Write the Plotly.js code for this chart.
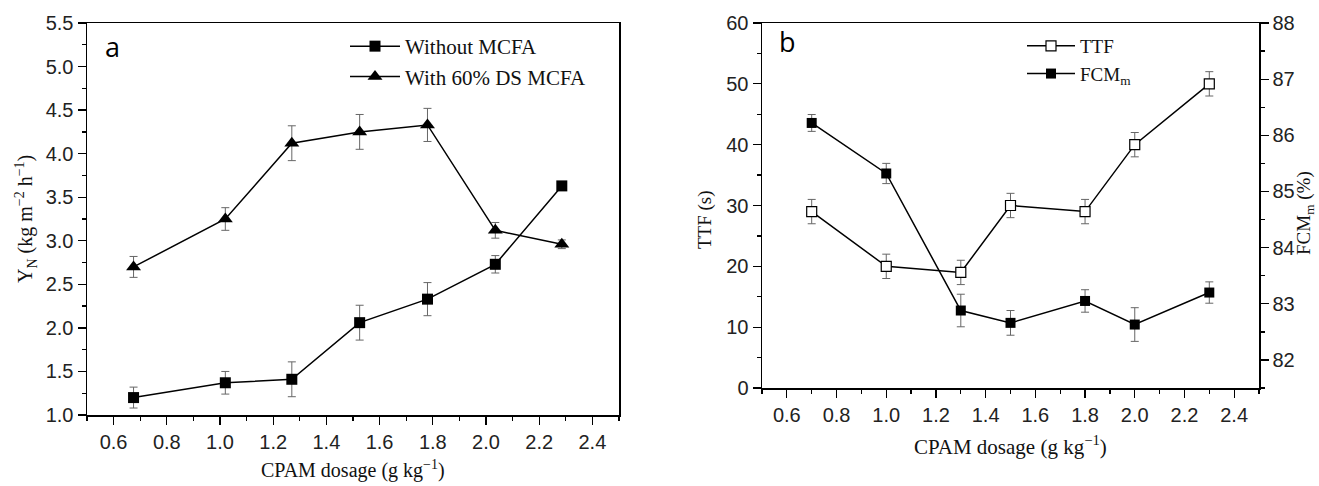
<!DOCTYPE html>
<html>
<head>
<meta charset="utf-8">
<script src="https://cdn.plot.ly/plotly-3.0.1.min.js"></script>
<style>html,body{margin:0;padding:0;background:#fff;}#chart{width:1319px;height:486px;}</style>
</head>
<body>
<div id="chart"></div>
<script>
// ---- Panel a data ----
const dosageA = [0.675, 1.02, 1.27, 1.525, 1.78, 2.035, 2.285];
const withoutMCFA = [1.20, 1.37, 1.41, 2.06, 2.33, 2.73, 3.63];
const withoutMCFAErr = [0.12, 0.13, 0.20, 0.20, 0.19, 0.10, 0.04];
const withMCFA = [2.70, 3.25, 4.12, 4.25, 4.33, 3.12, 2.96];
const withMCFAErr = [0.12, 0.13, 0.20, 0.20, 0.19, 0.09, 0.05];

// ---- Panel b data ----
const dosageB = [0.7, 1.0, 1.3, 1.5, 1.8, 2.0, 2.3];
const ttf = [29, 20, 19, 30, 29, 40, 50];
const ttfErr = [2, 2, 2, 2, 2, 2, 2];
const fcm = [86.22, 85.32, 82.88, 82.66, 83.05, 82.63, 83.20];
const fcmErr = [0.15, 0.18, 0.29, 0.22, 0.20, 0.30, 0.19];

const W = 1319, H = 486;
const tickFont = {family: 'Liberation Sans, Arial, sans-serif', size: 20, color: '#222'};
const serif = 'Liberation Serif, Times New Roman, serif';
const errStyle = (arr) => ({type: 'data', array: arr, visible: true, color: '#666', thickness: 1, width: 4});

const traces = [
  {x: dosageA, y: withoutMCFA, error_y: errStyle(withoutMCFAErr), name: 'Without MCFA',
   mode: 'lines+markers', xaxis: 'x', yaxis: 'y', legend: 'legend',
   line: {color: '#000', width: 1.5}, marker: {symbol: 'square', size: 11, color: '#000'}},
  {x: dosageA, y: withMCFA, error_y: errStyle(withMCFAErr), name: 'With 60% DS MCFA',
   mode: 'lines+markers', xaxis: 'x', yaxis: 'y', legend: 'legend',
   line: {color: '#000', width: 1.5}, marker: {symbol: 'triangle-up', size: 13, color: '#000'}},
  {x: dosageB, y: ttf, error_y: errStyle(ttfErr), name: 'TTF',
   mode: 'lines+markers', xaxis: 'x2', yaxis: 'y2', legend: 'legend2',
   line: {color: '#000', width: 1.5}, marker: {symbol: 'square', size: 10, color: '#fff', line: {color: '#000', width: 1.2}}},
  {x: dosageB, y: fcm, error_y: errStyle(fcmErr), name: 'FCM<sub>m</sub>',
   mode: 'lines+markers', xaxis: 'x2', yaxis: 'y3', legend: 'legend2',
   line: {color: '#000', width: 1.5}, marker: {symbol: 'square', size: 10, color: '#000'}}
];

const xCommon = {
  range: [0.5, 2.5], dtick: 0.2, tick0: 0.6, tickformat: '.1f', ticks: 'outside', ticklen: 8, tickwidth: 1.3,
  tickcolor: '#000', showline: true, linecolor: '#000', linewidth: 1.5, mirror: true, showgrid: false, zeroline: false,
  tickfont: tickFont, minor: {dtick: 0.1, tick0: 0.5, ticks: 'outside', ticklen: 4, tickwidth: 1.3, tickcolor: '#000', showgrid: false}
};
const yCommon = {
  ticks: 'outside', ticklen: 8, tickwidth: 1.3, tickcolor: '#000', showline: true, linecolor: '#000', linewidth: 1.5,
  showgrid: false, zeroline: false, tickfont: tickFont
};

const layout = {
  width: W, height: H, margin: {l: 0, r: 0, t: 0, b: 0}, paper_bgcolor: '#fff', plot_bgcolor: '#fff',
  showlegend: true,
  xaxis: Object.assign({}, xCommon, {domain: [87/W, 619/W], anchor: 'y'}),
  yaxis: Object.assign({}, yCommon, {domain: [1-415/H, 1-23/H], anchor: 'x', range: [1.0, 5.5], dtick: 0.5, tick0: 1.0,
    tickformat: '.1f', mirror: true, minor: {dtick: 0.25, ticks: 'outside', ticklen: 4, tickwidth: 1.3, tickcolor: '#000'}}),
  xaxis2: Object.assign({}, xCommon, {domain: [762/W, 1259/W], anchor: 'y2'}),
  yaxis2: Object.assign({}, yCommon, {domain: [1-388/H, 1-23/H], anchor: 'x2', range: [0, 60], dtick: 10, tick0: 0,
    minor: {dtick: 5, ticks: 'outside', ticklen: 4, tickwidth: 1.3, tickcolor: '#000'}}),
  yaxis3: Object.assign({}, yCommon, {overlaying: 'y2', side: 'right', anchor: 'x2', range: [81.5, 88], dtick: 1, tick0: 82,
    minor: {dtick: 0.5, ticks: 'outside', ticklen: 4, tickwidth: 1.3, tickcolor: '#000'}}),
  legend: {x: 345/W, y: 1-26/H, xanchor: 'left', yanchor: 'top', bgcolor: 'rgba(0,0,0,0)', borderwidth: 0,
    font: {family: serif, size: 21, color: '#111'}, itemwidth: 50, tracegroupgap: 0},
  legend2: {x: 1022/W, y: 1-27/H, xanchor: 'left', yanchor: 'top', bgcolor: 'rgba(0,0,0,0)', borderwidth: 0,
    font: {family: serif, size: 19, color: '#111'}, itemwidth: 48, tracegroupgap: 0},
  annotations: [
    {text: 'a', x: 103/W, y: 1-46/H, xref: 'paper', yref: 'paper', xanchor: 'left', yanchor: 'middle', showarrow: false,
     font: {family: 'Open Sans, sans-serif', size: 27, color: '#000'}},
    {text: 'b', x: 777/W, y: 1-42/H, xref: 'paper', yref: 'paper', xanchor: 'left', yanchor: 'middle', showarrow: false,
     font: {family: 'Open Sans, sans-serif', size: 27, color: '#000'}},
    {text: 'CPAM dosage (g kg<sup>−1</sup>)', x: 353/W, y: 2/H, xref: 'paper', yref: 'paper', xanchor: 'center', yanchor: 'bottom',
     showarrow: false, font: {family: serif, size: 20, color: '#111'}},
    {text: 'CPAM dosage (g kg<sup>−1</sup>)', x: 1010/W, y: 1-445/H, xref: 'paper', yref: 'paper', xanchor: 'center', yanchor: 'middle',
     showarrow: false, font: {family: serif, size: 21, color: '#111'}},
    {text: 'Y<sub>N</sub> (kg m<sup>−2</sup> h<sup>−1</sup>)', x: 26/W, y: 1-219/H, xref: 'paper', yref: 'paper', xanchor: 'center', yanchor: 'middle',
     textangle: -90, showarrow: false, font: {family: serif, size: 20, color: '#111'}},
    {text: 'TTF (s)', x: 705/W, y: 1-220/H, xref: 'paper', yref: 'paper', xanchor: 'center', yanchor: 'middle',
     textangle: -90, showarrow: false, font: {family: serif, size: 19, color: '#111'}},
    {text: 'FCM<sub>m</sub> (%)', x: 1305/W, y: 1-213/H, xref: 'paper', yref: 'paper', xanchor: 'center', yanchor: 'middle',
     textangle: -90, showarrow: false, font: {family: serif, size: 19, color: '#111'}}
  ]
};

Plotly.newPlot('chart', traces, layout, {staticPlot: true, displayModeBar: false});
</script>
</body>
</html>
